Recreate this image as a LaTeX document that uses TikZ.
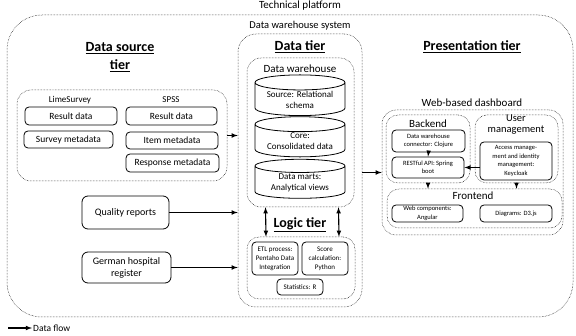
\documentclass[tikz,border=0pt]{standalone}
\usepackage{fontspec}
\setmainfont{Carlito}
\usetikzlibrary{shapes.geometric,calc}

\tikzset{
  dotframe/.style={draw, densely dotted, line width=0.5pt},
  itembox/.style={draw, rounded corners=4pt, line width=0.8pt, align=center, inner sep=1pt},
  dbcyl/.style={draw, cylinder, shape border rotate=90, shape aspect=0.22, line width=0.8pt, align=center, inner sep=1pt},
  tiertitle/.style={font=\fontsize{14}{17}\selectfont\bfseries, align=center},
  flow/.style={->, >=latex, line width=1.1pt},
}

\begin{document}
\begin{tikzpicture}[x=1pt,y=-1pt]
\useasboundingbox (0,0) rectangle (576,336);

% containers
\begin{scope}[every node/.style={dotframe}]
  \node[minimum width=566pt, minimum height=302pt, rounded corners=35pt] (platform) at (290,166) {};
  \node[minimum width=210pt, minimum height=91pt, rounded corners=14pt] (sources) at (122,135.5) {};
  \node[minimum width=124pt, minimum height=273pt, rounded corners=18pt] (tier) at (300,170.5) {};
  \node[minimum width=107pt, minimum height=149pt, rounded corners=14pt] (dw) at (300.5,132.5) {};
  \node[minimum width=108pt, minimum height=62pt, rounded corners=12pt] (logic) at (301,268) {};
  \node[minimum width=181pt, minimum height=125pt, rounded corners=14pt] (dash) at (472.5,172.5) {};
  \node[minimum width=84pt, minimum height=68pt, rounded corners=12pt] (backend) at (428,149) {};
  \node[minimum width=83pt, minimum height=68pt, rounded corners=12pt] (usermgmt) at (516.5,149) {};
  \node[minimum width=175pt, minimum height=39pt, rounded corners=12pt] (frontend) at (474.5,208.5) {};
\end{scope}

% titles and labels
\node[tiertitle] (srctitle) at (120,57) {\underline{Data source}\\[1pt]\underline{tier}};
\node[tiertitle] (datatitle) at (300,47) {\underline{Data tier}};
\node[tiertitle] (logictitle) at (300,225) {\underline{Logic tier}};
\node[tiertitle] (prestitle) at (472,47) {\underline{Presentation tier}};

\begin{scope}[every node/.style={font=\fontsize{11}{12}\selectfont, align=center}]
  \node (platformlbl) at (300,6) {Technical platform};
  \node[font=\fontsize{10.5}{12}\selectfont] (dwslbl) at (300,26) {Data warehouse system};
  \node (dwlbl) at (300,69) {Data warehouse};
  \node (dashlbl) at (472,103) {Web-based dashboard};
  \node (backlbl) at (428,124) {Backend};
  \node[font=\fontsize{10.5}{11}\selectfont] (userlbl) at (516,125) {User\\management};
  \node (frontlbl) at (473,196) {Frontend};
  \node[font=\fontsize{9}{10}\selectfont] (limelbl) at (70,100) {LimeSurvey};
  \node[font=\fontsize{9}{10}\selectfont] (spsslbl) at (171,100) {SPSS};
\end{scope}

% data sources
\begin{scope}[every node/.style={itembox, font=\fontsize{9.5}{11}\selectfont}]
  \node[minimum width=92pt, minimum height=18pt] (limeres) at (71,116) {Result data};
  \node[minimum width=89pt, minimum height=17pt] (limemeta) at (68.5,139.5) {Survey metadata};
  \node[minimum width=91pt, minimum height=18pt] (spssres) at (171.5,116) {Result data};
  \node[minimum width=92pt, minimum height=17pt] (itemmeta) at (172,140.5) {Item metadata};
  \node[minimum width=93pt, minimum height=18pt] (respmeta) at (172.5,163) {Response metadata};
  \node[minimum width=87pt, minimum height=33pt, rounded corners=6pt, font=\fontsize{10}{12}\selectfont] (quality) at (125.5,212.5) {Quality reports};
  \node[minimum width=89pt, minimum height=31pt, rounded corners=6pt, font=\fontsize{10}{12}\selectfont] (hospital) at (126.5,267.5) {German hospital\\register};
\end{scope}

% data warehouse layers
\begin{scope}[every node/.style={dbcyl, font=\fontsize{9}{11}\selectfont, minimum width=90pt, minimum height=34pt}]
  \node (source) at (300,100) {Source: Relational\\schema};
  \node (core) at (300,141.5) {Core:\\Consolidated data};
  \node (marts) at (300,183) {Data marts:\\Analytical views};
\end{scope}

% logic tier
\begin{scope}[every node/.style={itembox, font=\fontsize{7}{9}\selectfont}]
  \node[minimum width=46pt, minimum height=33pt] (etl) at (275,258.5) {ETL process:\\Pentaho Data\\Integration};
  \node[minimum width=46pt, minimum height=33pt] (score) at (325,258.5) {Score\\calculation:\\Python};
  \node[minimum width=46pt, minimum height=16pt] (stats) at (300,287) {Statistics: R};
\end{scope}

% dashboard parts
\begin{scope}[every node/.style={itembox, font=\fontsize{6.5}{8.5}\selectfont}]
  \node[minimum width=73pt, minimum height=22pt] (connector) at (428.5,141) {Data warehouse\\connector: Clojure};
  \node[minimum width=72pt, minimum height=21pt] (restapi) at (428,167.5) {RESTful API: Spring\\boot};
  \node[minimum width=72pt, minimum height=38pt] (access) at (516,161) {Access manage-\\ment and identity\\management:\\Keycloak};
  \node[minimum width=71pt, minimum height=17pt] (webcomp) at (427.5,213.5) {Web components:\\Angular};
  \node[minimum width=72pt, minimum height=17pt] (diagrams) at (516,213.5) {Diagrams: D3.js};
\end{scope}

% data flow
\begin{scope}[every path/.style={flow}]
  \draw (sources.east) -- (sources.east -| tier.west);
  \draw (quality.east) -- (quality.east -| tier.west);
  \draw (hospital.east) -- (hospital.east -| tier.west);
  \draw (tier.east |- dash.west) -- (dash.west);
  \draw[<->] ($(dw.south)+(-35,0)$) -- ($(logic.north)+(-35,0)$);
  \draw[<->] ($(dw.south)+(38,0)$) -- ($(logic.north)+(38,0)$);
  \draw (connector.south) -- (restapi.north);
  \draw (access.west |- restapi.east) -- (restapi.east);
  \draw (backend.south) -- (backend.south |- frontend.north);
  \draw (usermgmt.south) -- (usermgmt.south |- frontend.north);
\end{scope}

% legend
\coordinate (legstart) at (8,328);
\node[anchor=west, font=\fontsize{9.5}{11}\selectfont, inner sep=1pt] (legtext) at (32,328) {Data flow};
\draw[flow] (legstart) -- (legtext.west);
\end{tikzpicture}
\end{document}
